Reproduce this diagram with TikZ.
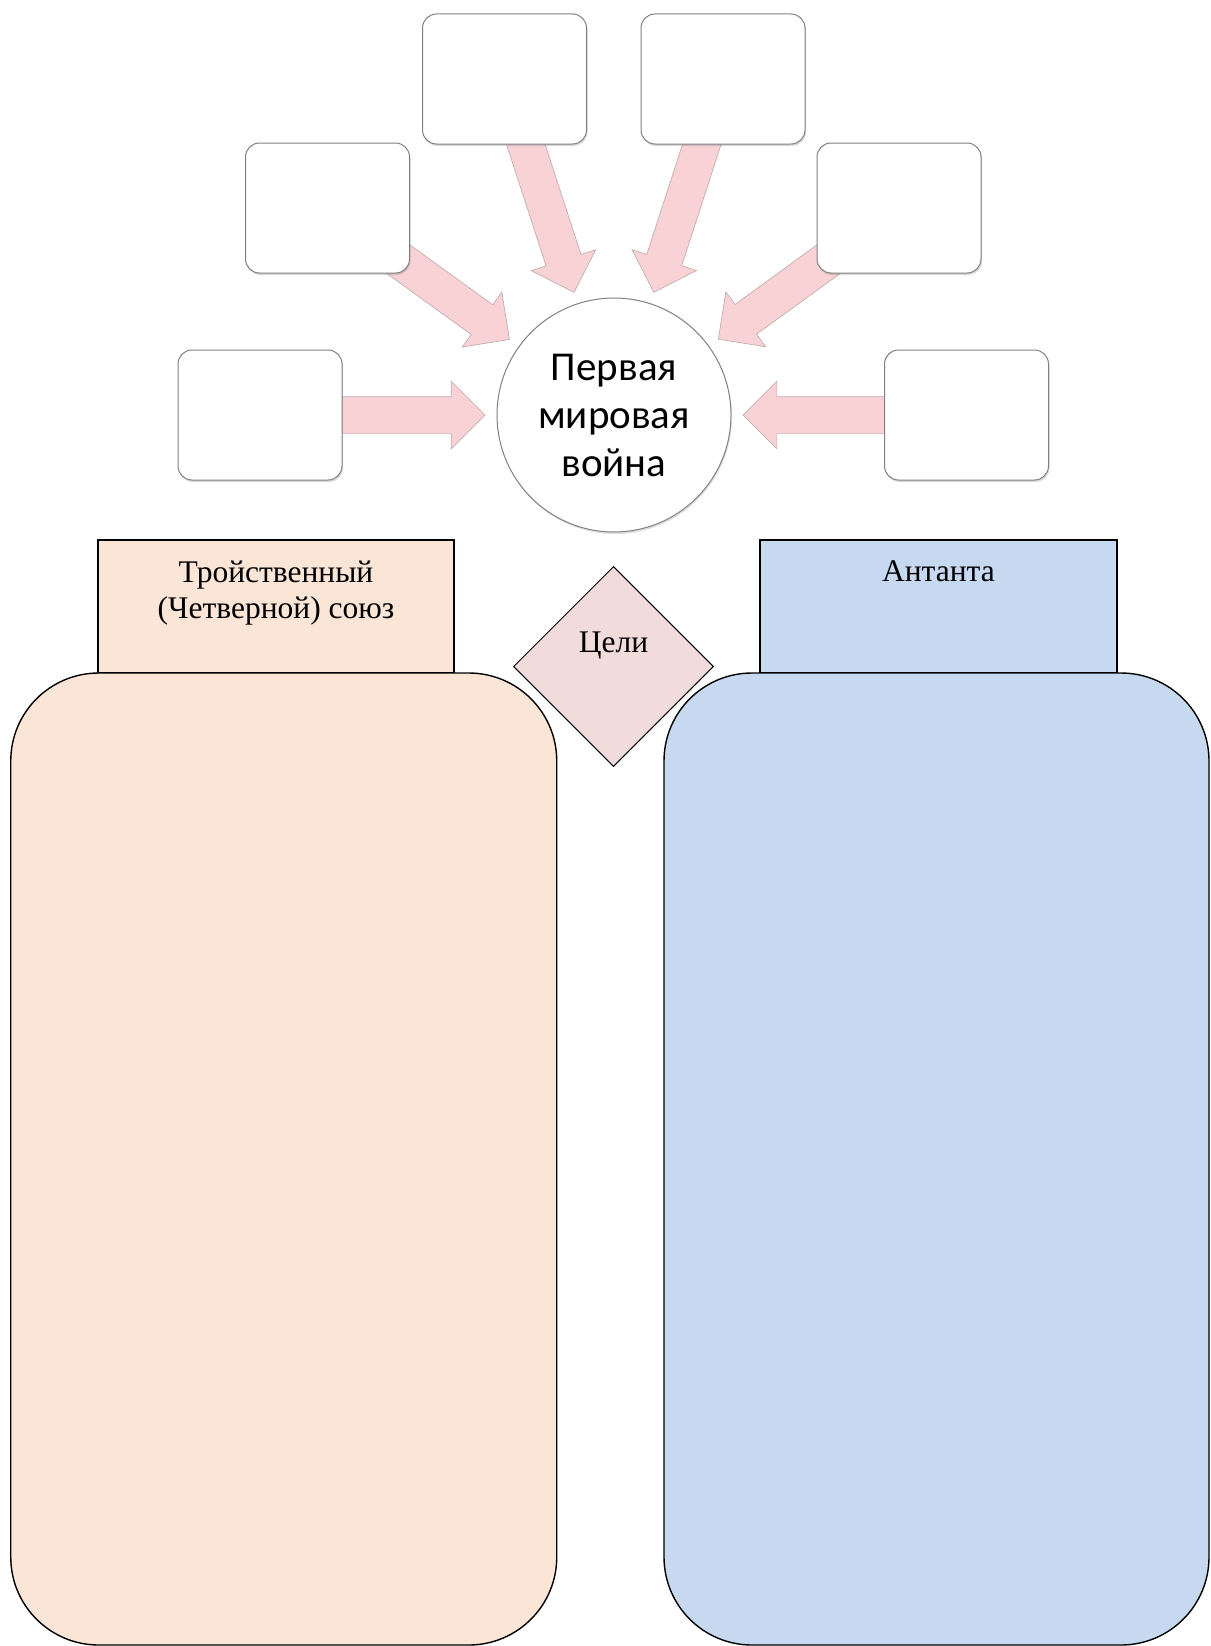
\documentclass[tikz,border=0pt]{standalone}
\usepackage{fontspec}
\setmainfont{Liberation Serif}
\newfontfamily\calfont{Carlito}
\usetikzlibrary{positioning,calc,shapes.arrows,shapes.geometric,shadows,backgrounds}
\definecolor{pch}{RGB}{251,229,214}
\definecolor{sky}{RGB}{198,217,240}
\definecolor{rose}{RGB}{242,219,219}
\definecolor{arw}{RGB}{249,210,214}
\definecolor{edg}{RGB}{128,128,128}

\newcommand\spoke[2]{%
  \path let \p1=($(#2)!129pt!(#1)$), \p2=(#1), \n1={veclen(\x1-\x2,\y1-\y2)}, \n2={atan2(\y1-\y2,\x1-\x2)} in
    node[barr,minimum height=\n1,rotate=\n2,anchor=tip] at (\p1) {};}

\begin{document}
\begin{tikzpicture}[x=1pt,y=-1pt,
  tile/.style={draw=edg,fill=white,line width=1pt,rounded corners=14pt,minimum width=164pt,minimum height=130pt,
    drop shadow={opacity=.3,shadow xshift=1pt,shadow yshift=-2pt}},
  hub/.style={circle,draw=edg,fill=white,line width=1pt,minimum size=234pt,inner sep=0pt,align=center,
    font=\calfont\fontsize{41}{48}\selectfont,drop shadow={opacity=.25,shadow xshift=1pt,shadow yshift=-2pt}},
  barr/.style={single arrow,draw=arw!55!gray,fill=arw,line width=.7pt,inner xsep=0pt,inner ysep=18pt,
    single arrow head extend=15.5pt,single arrow tip angle=90,outer sep=0pt},
  hdr/.style={draw=black,line width=1.2pt,minimum height=133pt},
  jar/.style={draw=black,line width=1.4pt,rounded corners=88pt},
  goal/.style={diamond,draw=black,fill=rose,line width=1pt,minimum width=200pt,minimum height=200pt,inner sep=0pt},
  txt/.style={font=\fontsize{31.5}{36}\selectfont,align=center,inner sep=0pt}]
  \useasboundingbox (0,0) rectangle (1210,1646);
  \node[hub] (hub) at (614,415) {Первая\\мировая\\война};
  \node[tile] (t1) at (504.5,79) {};
  \node[tile] (t2) at (723,79) {};
  \node[tile] (t3) at (327.5,208) {};
  \node[tile] (t4) at (899,208) {};
  \node[tile] (t5) at (260,415) {};
  \node[tile] (t6) at (966.5,415) {};
  \begin{scope}[on background layer]
    \spoke{t1}{hub} \spoke{t2}{hub} \spoke{t3}{hub}
    \spoke{t4}{hub} \spoke{t5}{hub} \spoke{t6}{hub}
  \end{scope}
  \node[hdr,fill=pch,minimum width=356pt] (lhdr) at (276,606.5) {};
  \node[hdr,fill=sky,minimum width=357pt] (rhdr) at (938.5,606.5) {};
  \node[jar,fill=pch,minimum width=546pt,minimum height=972pt] (ljar) at (283.75,1159) {};
  \node[jar,fill=sky,minimum width=545pt,minimum height=972pt] (rjar) at (936.5,1159) {};
  \node[txt,below=21pt of lhdr.north] (ltxt) {Тройственный\\(Четверной) союз};
  \node[txt,below=21pt of rhdr.north] (rtxt) {Антанта};
  \node[goal] (goal) at (613.5,666.5) {};
  \node[txt,anchor=base] (gtxt) at ($(goal.center)+(0,-14)$) {Цели};
\end{tikzpicture}
\end{document}
